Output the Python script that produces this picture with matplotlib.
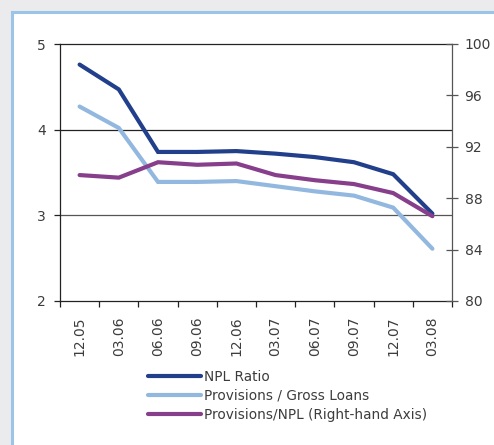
import matplotlib
matplotlib.use("Agg")
import matplotlib.pyplot as plt
from matplotlib.patches import Rectangle
from matplotlib.ticker import FixedLocator, NullFormatter, FixedFormatter

# Quarterly data
quarters = ["12.05", "03.06", "06.06", "09.06", "12.06",
            "03.07", "06.07", "09.07", "12.07", "03.08"]
npl_ratio = [4.76, 4.47, 3.74, 3.74, 3.75, 3.72, 3.68, 3.62, 3.48, 3.02]
prov_gross = [4.27, 4.02, 3.39, 3.39, 3.40, 3.34, 3.28, 3.23, 3.09, 2.61]
prov_npl = [89.8, 89.6, 90.8, 90.6, 90.7, 89.8, 89.4, 89.1, 88.4, 86.6]

left_ticks = [2, 3, 4, 5]
right_ticks = [80, 84, 88, 92, 96, 100]

C_NAVY = "#213f8b"
C_LIGHT = "#93b8e0"
C_PURPLE = "#873f8c"
TXT = "#3c3c3c"

plt.rcParams["font.family"] = ["DejaVu Sans"]
fig = plt.figure(figsize=(4.94, 4.45), dpi=100)
fig.patch.set_facecolor("#ebebee")

# white panel with light blue frame
W, H = 494, 445
fig.patches.append(Rectangle((11.5 / W, -0.1), 1.2, 1.1 - 12.5 / H, transform=fig.transFigure,
                             facecolor="white", edgecolor="#9cc3e8", linewidth=2.2,
                             zorder=-10))

ax = fig.add_axes([60 / W, 1 - 301 / H, (452 - 60) / W, (301 - 44) / H])
ax.set_facecolor("none")
x = list(range(len(quarters)))

ax.set_xlim(-0.5, len(quarters) - 0.5)
ax.set_ylim(2, 5)
ax.axhline(4, color="#222222", lw=0.9, zorder=1)
ax.axhline(3, color="#555555", lw=0.9, zorder=1)

lw = 3.0
l1, = ax.plot(x, npl_ratio, color=C_NAVY, lw=lw, solid_capstyle="round",
              solid_joinstyle="miter", zorder=4, label="NPL Ratio")
l2, = ax.plot(x, prov_gross, color=C_LIGHT, lw=lw, solid_capstyle="round",
              solid_joinstyle="miter", zorder=3, label="Provisions / Gross Loans")

ax2 = ax.twinx()
ax2.set_ylim(80, 100)
ax2.patch.set_visible(False)
l3, = ax2.plot(x, prov_npl, color=C_PURPLE, lw=lw, solid_capstyle="round",
               solid_joinstyle="miter", zorder=3, label="Provisions/NPL (Right-hand Axis)")

# axes styling
for s in ["left", "bottom", "top"]:
    ax.spines[s].set_color("#222222")
    ax.spines[s].set_linewidth(0.9)
ax.spines["right"].set_visible(False)
for s in ["left", "bottom", "top"]:
    ax2.spines[s].set_visible(False)
ax2.spines["right"].set_color("#555555")
ax2.spines["right"].set_linewidth(0.9)

ax.set_yticks(left_ticks)
ax.tick_params(axis="y", direction="out", length=4, width=0.9, color="#222222",
               labelsize=10, labelcolor=TXT, pad=6)
ax2.set_yticks(right_ticks)
ax2.tick_params(axis="y", direction="inout", length=8, width=0.9, color="#555555",
                labelsize=10, labelcolor=TXT, pad=5)

# category boundary ticks, labels centred between them
ax.xaxis.set_major_locator(FixedLocator([i - 0.5 for i in range(len(quarters) + 1)]))
ax.xaxis.set_major_formatter(NullFormatter())
ax.xaxis.set_minor_locator(FixedLocator(x))
ax.xaxis.set_minor_formatter(FixedFormatter(quarters))
ax.tick_params(axis="x", which="major", direction="out", length=4, width=0.9,
               color="#222222")
ax.tick_params(axis="x", which="minor", length=0, labelsize=10, labelcolor=TXT,
               pad=11, labelrotation=90)

leg = fig.legend(handles=[l1, l2, l3], loc="upper left",
                 bbox_to_anchor=(148 / W, 1 - 370 / H), frameon=False,
                 handlelength=3.9, handletextpad=0.2, labelspacing=0.35,
                 fontsize=9.8, borderaxespad=0, borderpad=0)
for t in leg.get_texts():
    t.set_color(TXT)

fig.savefig("out.png", dpi=100, facecolor=fig.get_facecolor())
